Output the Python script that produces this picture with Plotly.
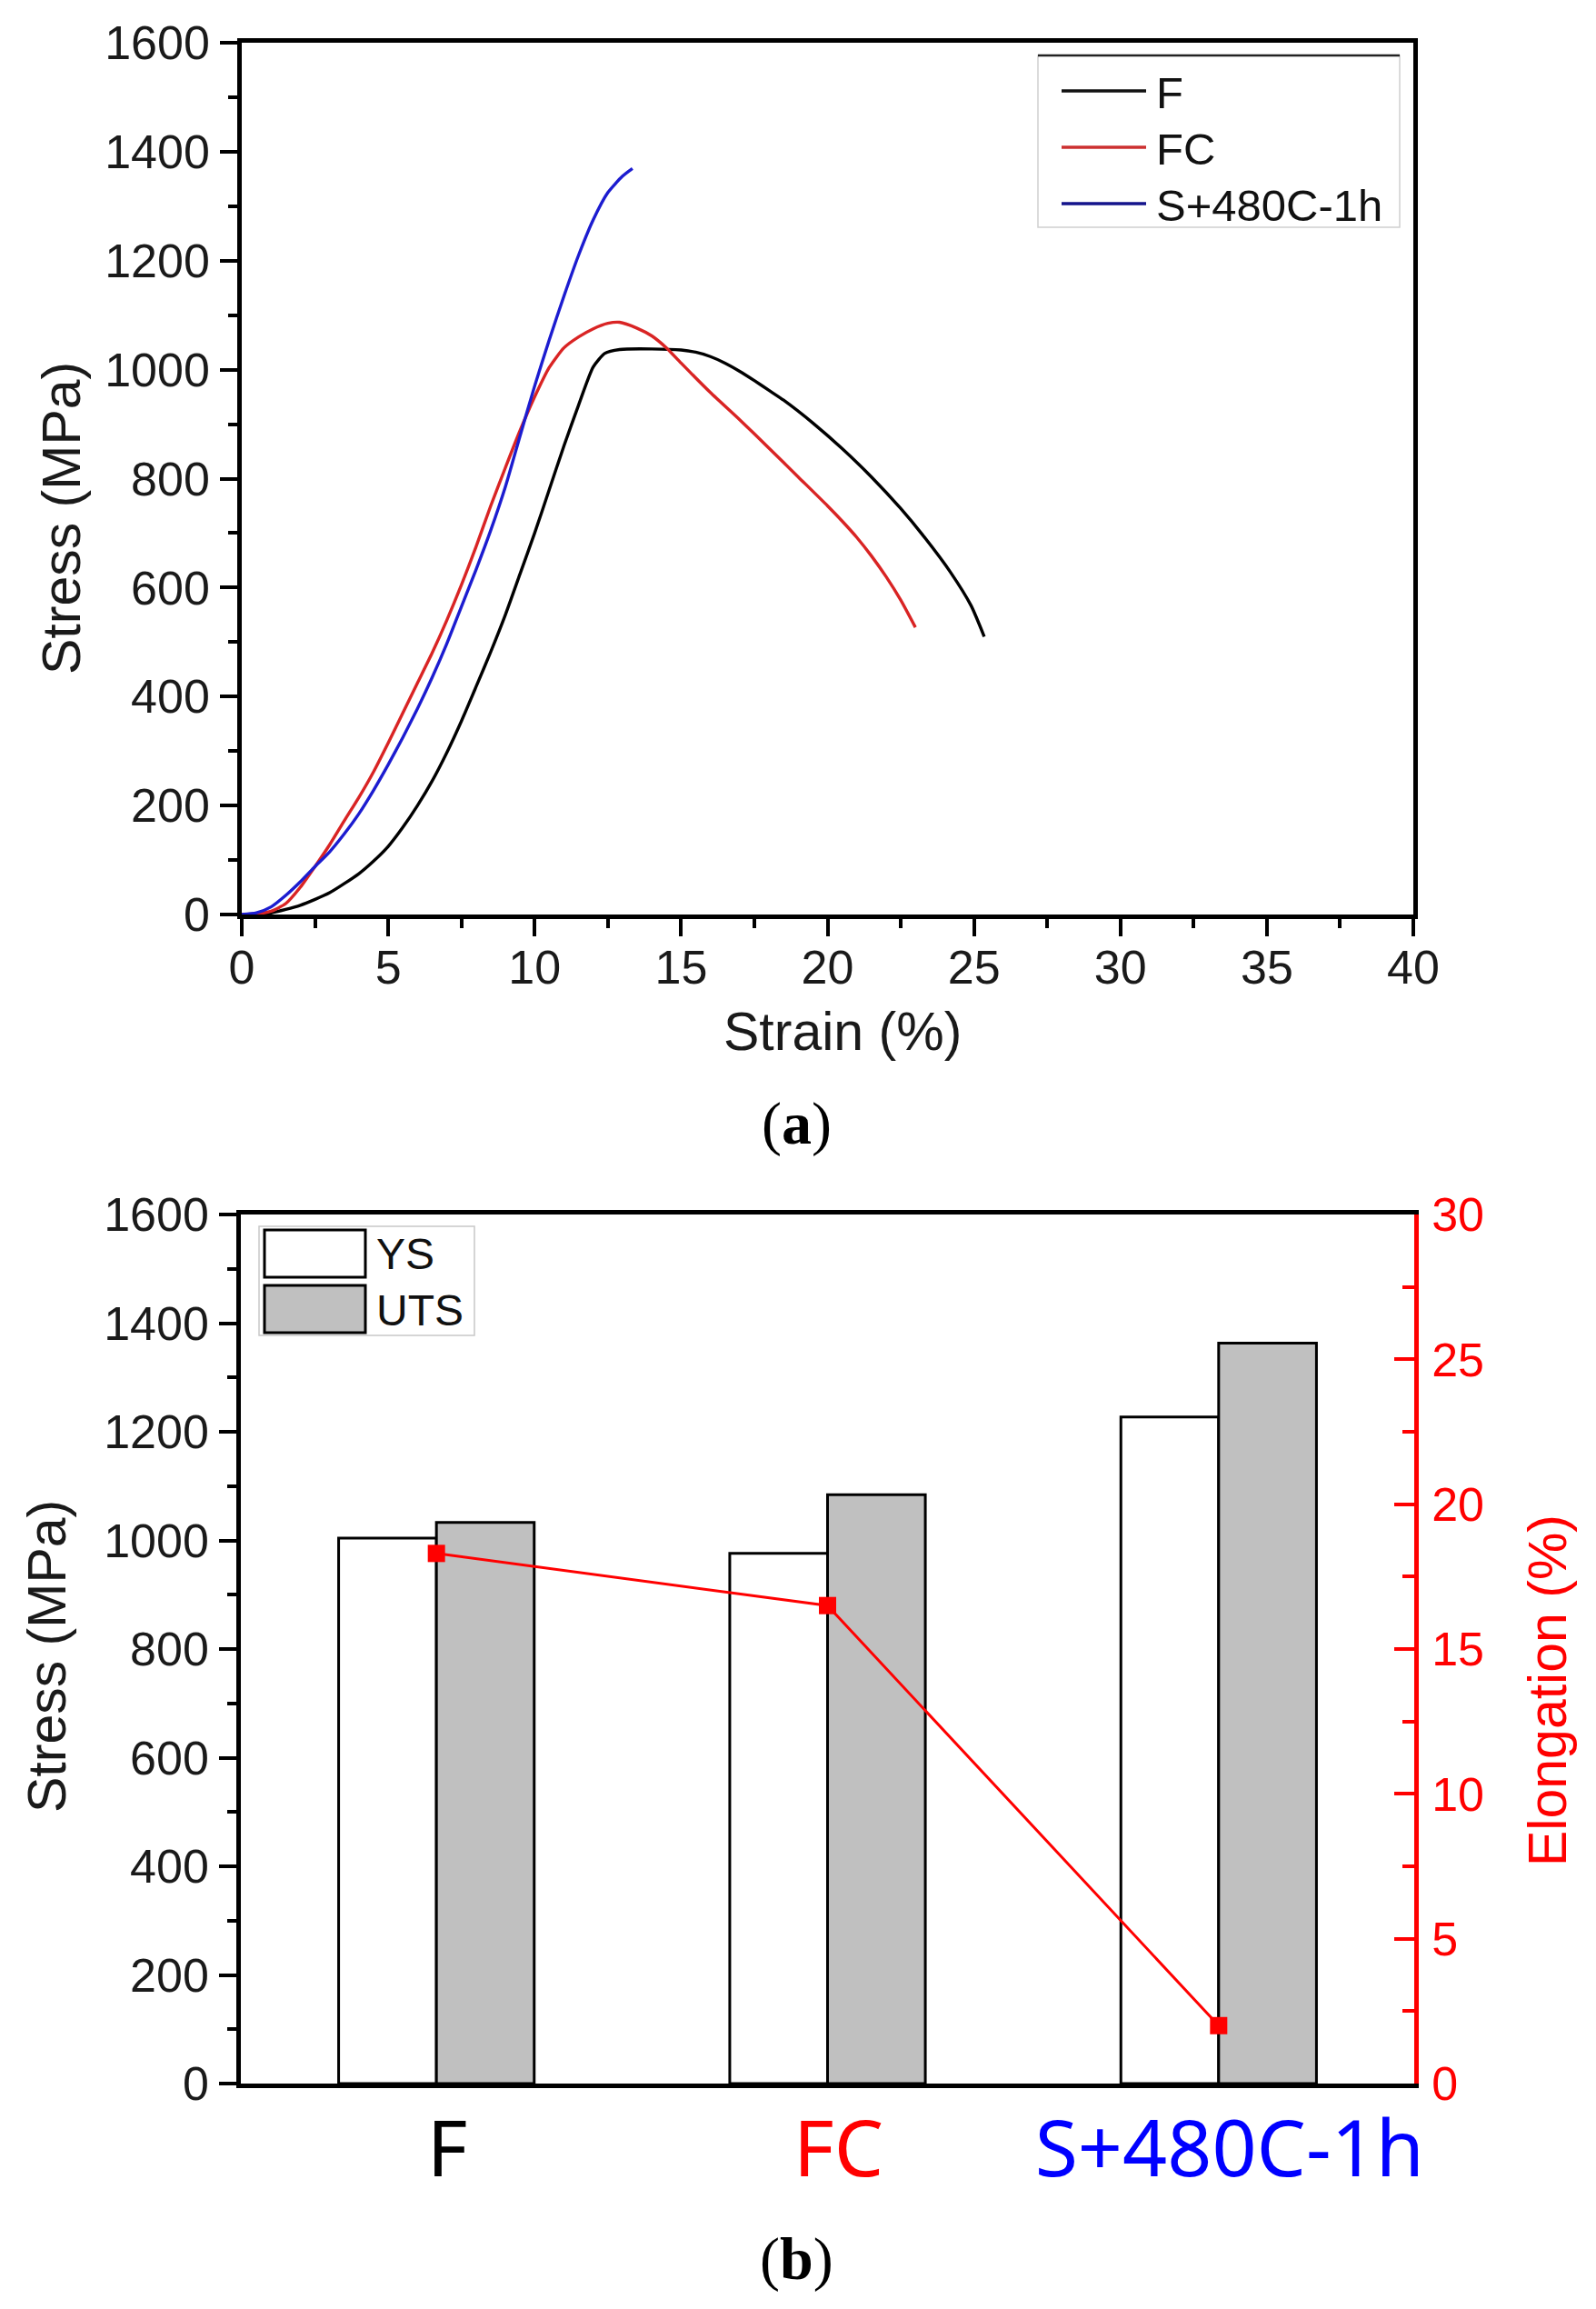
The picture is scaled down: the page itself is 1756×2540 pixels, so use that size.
import plotly.graph_objects as go

# ---------------- data ----------------
strain_F = [0, 1, 2, 3, 4, 4.5, 5, 5.5, 6, 6.5, 7, 7.5, 8, 8.5, 9, 9.5, 10, 10.5, 11, 11.5,
            12, 12.4, 12.9, 14, 15, 15.5, 16, 16.5, 17, 17.5, 18, 18.5, 19.5, 20.5, 21.5, 22.5,
            23.3, 24.2, 24.9, 25.35]
stress_F = [0, 3, 17, 40, 75, 98, 125, 160, 200, 245, 297, 355, 418, 482, 550, 625, 700, 780,
            860, 935, 1005, 1030, 1037, 1038, 1036, 1032, 1024, 1012, 997, 980, 962, 944, 902,
            855, 803, 745, 693, 628, 567, 510]

strain_FC = [0, 0.5, 1, 1.5, 2, 2.5, 3, 3.5, 4, 4.5, 5, 5.5, 6, 6.5, 7, 7.5, 8, 8.5, 9, 9.5,
             10, 10.5, 11, 11.5, 12, 12.5, 12.9, 13.5, 14, 14.5, 15, 16, 17, 18, 19, 20, 20.5,
             21, 21.5, 22, 22.5, 23]
stress_FC = [0, 1, 6, 20, 50, 88, 128, 172, 215, 262, 315, 370, 425, 480, 540, 605, 675, 750,
             820, 888, 950, 1004, 1040, 1060, 1075, 1085, 1087, 1076, 1062, 1040, 1012, 958,
             908, 856, 803, 750, 722, 692, 658, 620, 577, 527]

strain_S = [0, 0.5, 1, 1.5, 2, 2.5, 3, 3.5, 4, 4.5, 5, 5.5, 6, 6.5, 7, 7.5, 8, 8.5, 9, 9.5,
            10, 10.5, 11, 11.5, 12, 12.5, 13, 13.34]
stress_S = [0, 3, 14, 35, 60, 88, 115, 148, 185, 228, 275, 325, 378, 435, 497, 565, 633, 705,
            785, 878, 970, 1055, 1135, 1210, 1275, 1325, 1355, 1369]

curve_names = ["F", "FC", "S+480C-1h"]
curve_colors = ["#000000", "#d92424", "#1c1cd0"]
legend_line_colors = ["#111111", "#cc3030", "#14148c"]

categories = ["F", "FC", "S+480C-1h"]
category_colors = ["#000000", "#ff0000", "#0000ff"]
ys_values = [1004, 976, 1227]
uts_values = [1033, 1084, 1363]
elongation = [18.3, 16.5, 2.0]

stress_ticks = [0, 200, 400, 600, 800, 1000, 1200, 1400, 1600]
strain_ticks = [0, 5, 10, 15, 20, 25, 30, 35, 40]
elong_ticks = [0, 5, 10, 15, 20, 25, 30]

# ---------------- layout helpers ----------------
W, H = 1756, 2540
OFF = 8  # page body margin of the html page
def px(x):
    return (x - OFF) / W
def py(y):
    return 1 - (y - OFF) / H

TOP = dict(l=266, r=1555, t=47, b=1006)
BOT = dict(l=265, r=1556, t=1336, b=2292)

SANS = "Liberation Sans, Arial, sans-serif"
TICKC = "#1a1a1a"
TICKSIZE = 52

fig = go.Figure()

curves = [(strain_F, stress_F), (strain_FC, stress_FC), (strain_S, stress_S)]
for (sx, sy), name, col in zip(curves, curve_names, curve_colors):
    fig.add_trace(go.Scatter(x=sx, y=sy, mode="lines", name=name,
                             line=dict(color=col, width=3.4, shape="spline", smoothing=0.6),
                             xaxis="x", yaxis="y", showlegend=False))

cat_pos = list(range(len(categories)))
fig.add_trace(go.Bar(x=cat_pos, y=ys_values, name="YS", xaxis="x2", yaxis="y2",
                     marker=dict(color="white", line=dict(color="black", width=3)),
                     showlegend=False))
fig.add_trace(go.Bar(x=cat_pos, y=uts_values, name="UTS", xaxis="x2", yaxis="y2",
                     marker=dict(color="#c0c0c0", line=dict(color="black", width=3)),
                     showlegend=False))
fig.add_trace(go.Scatter(x=cat_pos, y=elongation, name="Elongation", mode="lines+markers",
                         xaxis="x2", yaxis="y3",
                         line=dict(color="#ff0000", width=3),
                         marker=dict(symbol="square", size=19, color="#ff0000"),
                         showlegend=False))

axis_common = dict(showgrid=False, zeroline=False, showline=True, linecolor="black",
                   linewidth=4.5, tickcolor="black", tickwidth=4, automargin=False,
                   tickfont=dict(family=SANS, size=TICKSIZE, color=TICKC))

ticktext = [f'<span style="color:{c}">{t}</span>' for t, c in zip(categories, category_colors)]

fig.update_layout(
    template="none",
    width=W, height=H,
    margin=dict(l=0, r=0, t=0, b=0, pad=0, autoexpand=False),
    paper_bgcolor="white", plot_bgcolor="white",
    showlegend=False,
    barmode="group", bargap=0.5, bargroupgap=0,
    xaxis=dict(domain=[px(TOP["l"]), px(TOP["r"])], range=[0, 40], anchor="y",
               tickvals=strain_ticks, ticks="outside", ticklen=19, mirror=True,
               ticklabelstandoff=-10,
               minor=dict(dtick=2.5, tick0=0, ticks="outside", ticklen=10, tickwidth=3.5,
                          tickcolor="black"),
               **axis_common),
    yaxis=dict(domain=[py(TOP["b"]), py(TOP["t"])], range=[0, 1600], anchor="x",
               tickvals=stress_ticks, ticks="outside", ticklen=19, mirror=True,
               ticklabelstandoff=1,
               minor=dict(dtick=100, tick0=0, ticks="outside", ticklen=10, tickwidth=3.5,
                          tickcolor="black"),
               **axis_common),
    xaxis2=dict(domain=[px(BOT["l"]), px(BOT["r"])], range=[-0.5, 2.5], anchor="y2",
                tickvals=cat_pos, ticktext=ticktext, ticks="", mirror=True,
                showgrid=False, zeroline=False, showline=True, linecolor="black",
                linewidth=5, ticklabelstandoff=-6, ticklabelshift=12, automargin=False,
                tickfont=dict(family="Noto Sans, sans-serif", size=86, color="black")),
    yaxis2=dict(domain=[py(BOT["b"]), py(BOT["t"])], range=[0, 1600], anchor="x2",
                side="left", tickvals=stress_ticks, ticks="outside", ticklen=19,
                ticklabelstandoff=1,
                minor=dict(dtick=100, tick0=0, ticks="outside", ticklen=10, tickwidth=3.5,
                           tickcolor="black"),
                **axis_common),
    yaxis3=dict(overlaying="y2", side="right", anchor="x2", range=[0, 30],
                tickvals=elong_ticks, ticks="inside", ticklen=22, automargin=False,
                ticklabelstandoff=4,
                showgrid=False, zeroline=False, showline=True, linecolor="#ff0000",
                linewidth=4.5, tickcolor="#ff0000", tickwidth=4,
                minor=dict(dtick=2.5, tick0=0, ticks="inside", ticklen=13, tickwidth=3.5,
                           tickcolor="#ff0000"),
                tickfont=dict(family=SANS, size=TICKSIZE, color="#ff0000")),
)

# ---------------- titles / labels ----------------
ann = []
def add_text(x, y, text, size, color="#1a1a1a", family=SANS, angle=0, xanchor="center"):
    ann.append(dict(x=px(x), y=py(y), xref="paper", yref="paper", text=text,
                    showarrow=False, textangle=angle, xanchor=xanchor, yanchor="middle",
                    font=dict(family=family, size=size, color=color)))

add_text(68, 570, "Stress (MPa)", 59, angle=-90)
add_text(927, 1135, "Strain (%)", 59)
add_text(52, 1822, "Stress (MPa)", 59, angle=-90)
add_text(1703, 1860, "Elongation (%)", 59, color="#ff0000", angle=-90)
add_text(876, 1236, "(<b>a</b>)", 66, color="black", family="Liberation Serif, serif")
add_text(876, 2485, "(<b>b</b>)", 66, color="black", family="Liberation Serif, serif")

shapes = []
# legend of panel (a)
shapes.append(dict(type="rect", xref="paper", yref="paper", x0=px(1142), x1=px(1540),
                   y0=py(250), y1=py(61), line=dict(color="#d0d0d0", width=1.5),
                   fillcolor="white", layer="above"))
shapes.append(dict(type="line", xref="paper", yref="paper", x0=px(1142), x1=px(1540),
                   y0=py(61), y1=py(61), line=dict(color="#222222", width=2.5), layer="above"))
for i, (name, col) in enumerate(zip(curve_names, legend_line_colors)):
    yy = 100 + 62 * i
    shapes.append(dict(type="line", xref="paper", yref="paper", x0=px(1168), x1=px(1261),
                       y0=py(yy), y1=py(yy), line=dict(color=col, width=3.5), layer="above"))
    add_text(1270, yy + 2, name, 49, color="#111111", xanchor="left")

# legend of panel (b)
shapes.append(dict(type="rect", xref="paper", yref="paper", x0=px(285), x1=px(522),
                   y0=py(1469), y1=py(1349), line=dict(color="#c8c8c8", width=1.5),
                   fillcolor="white", layer="above"))
for i, (name, fill) in enumerate([("YS", "white"), ("UTS", "#c0c0c0")]):
    y0 = 1353 + 61 * i
    shapes.append(dict(type="rect", xref="paper", yref="paper", x0=px(291), x1=px(402),
                       y0=py(y0 + 52), y1=py(y0), line=dict(color="black", width=3),
                       fillcolor=fill, layer="above"))
    add_text(412, y0 + 27, name, 48, color="#111111", xanchor="left")

fig.update_layout(annotations=ann, shapes=shapes)

fig.write_html("out.html")
